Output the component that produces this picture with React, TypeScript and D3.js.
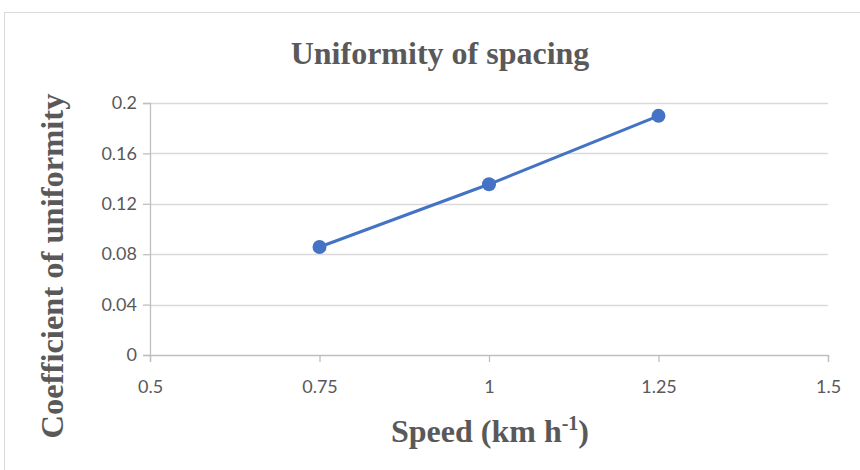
import React, { useEffect, useRef } from "react";
import * as d3 from "d3";

// values
const speeds: number[] = [0.75, 1.0, 1.25];
const uniformity: number[] = [0.0857, 0.1355, 0.1898];
const xTicks: number[] = [0.5, 0.75, 1, 1.25, 1.5];
const yTicks: number[] = [0, 0.04, 0.08, 0.12, 0.16, 0.2];

const W = 860;
const H = 470;

const App: React.FC = () => {
  const svgRef = useRef<SVGSVGElement | null>(null);

  useEffect(() => {
    if (!svgRef.current) return;
    const svg = d3.select(svgRef.current);
    svg.selectAll("*").remove();

    const margin = { top: 103, right: 32, bottom: 115, left: 150 };
    const x = d3.scaleLinear().domain([0.5, 1.5]).range([margin.left, W - margin.right]);
    const y = d3.scaleLinear().domain([0, 0.2]).range([H - margin.bottom, margin.top]);

    const grey = "#595959";
    const axisGrey = "#bfbfbf";
    const tickFont = "Lato, 'Open Sans', sans-serif";
    const titleFont = "'Liberation Serif', 'Times New Roman', serif";

    // chart frame
    svg.append("rect")
      .attr("x", 4.5).attr("y", 12.5)
      .attr("width", W - 4).attr("height", H - 12)
      .attr("fill", "white")
      .attr("stroke", "#d9d9d9");

    // horizontal gridlines
    svg.append("g")
      .selectAll("line")
      .data(yTicks.filter((d) => d > 0))
      .enter()
      .append("line")
      .attr("x1", x(0.5)).attr("x2", x(1.5))
      .attr("y1", (d) => Math.round(y(d)) + 0.5)
      .attr("y2", (d) => Math.round(y(d)) + 0.5)
      .attr("stroke", "#d9d9d9")
      .attr("stroke-width", 1.3);

    // y axis
    const yAxis = svg.append("g")
      .attr("transform", `translate(${x(0.5)},0)`)
      .call(d3.axisLeft(y).tickValues(yTicks).tickSize(7).tickPadding(6).tickFormat((d) => `${+d}`));
    yAxis.select(".domain").attr("stroke", axisGrey).attr("stroke-width", 1.3);
    yAxis.selectAll(".tick line").attr("stroke", axisGrey).attr("stroke-width", 1.3);
    yAxis.selectAll("text")
      .style("font-family", tickFont)
      .style("font-size", "18px")
      .attr("fill", grey);

    // x axis
    const xAxis = svg.append("g")
      .attr("transform", `translate(0,${y(0)})`)
      .call(d3.axisBottom(x).tickValues(xTicks).tickSize(7).tickPadding(18).tickFormat((d) => `${+d}`));
    xAxis.select(".domain").attr("stroke", axisGrey).attr("stroke-width", 1.3);
    xAxis.selectAll(".tick line").attr("stroke", axisGrey).attr("stroke-width", 1.3);
    xAxis.selectAll("text")
      .style("font-family", tickFont)
      .style("font-size", "18px")
      .attr("fill", grey);

    // series line
    const pts: [number, number][] = speeds.map((s, i) => [s, uniformity[i]]);
    const line = d3.line<[number, number]>()
      .x((d) => x(d[0]))
      .y((d) => y(d[1]));

    svg.append("path")
      .datum(pts)
      .attr("d", line)
      .attr("fill", "none")
      .attr("stroke", "#4472c4")
      .attr("stroke-width", 3)
      .attr("stroke-linecap", "round");

    svg.append("g")
      .selectAll("circle")
      .data(pts)
      .enter()
      .append("circle")
      .attr("cx", (d) => x(d[0]))
      .attr("cy", (d) => y(d[1]))
      .attr("r", 7)
      .attr("fill", "#4472c4");

    // titles
    svg.append("text")
      .attr("x", 440).attr("y", 64)
      .attr("text-anchor", "middle")
      .style("font-family", titleFont)
      .style("font-weight", "bold")
      .style("font-size", "32px")
      .attr("fill", grey)
      .text("Uniformity of spacing");

    const xt = svg.append("text")
      .attr("x", 490).attr("y", 442)
      .attr("text-anchor", "middle")
      .style("font-family", titleFont)
      .style("font-weight", "bold")
      .style("font-size", "32px")
      .attr("fill", grey);
    xt.append("tspan").text("Speed (km h");
    xt.append("tspan").attr("dy", -12).style("font-size", "20px").text("-1");
    xt.append("tspan").attr("dy", 12).text(")");

    svg.append("text")
      .attr("transform", `translate(63,266) rotate(-90)`)
      .attr("text-anchor", "middle")
      .style("font-family", titleFont)
      .style("font-weight", "bold")
      .style("font-size", "32.5px")
      .attr("fill", grey)
      .text("Coefficient of uniformity");
  }, []);

  return (
    <svg
      ref={svgRef}
      width={W}
      height={H}
      style={{ position: "absolute", left: 0, top: 0, background: "white" }}
    />
  );
};

export default App;
